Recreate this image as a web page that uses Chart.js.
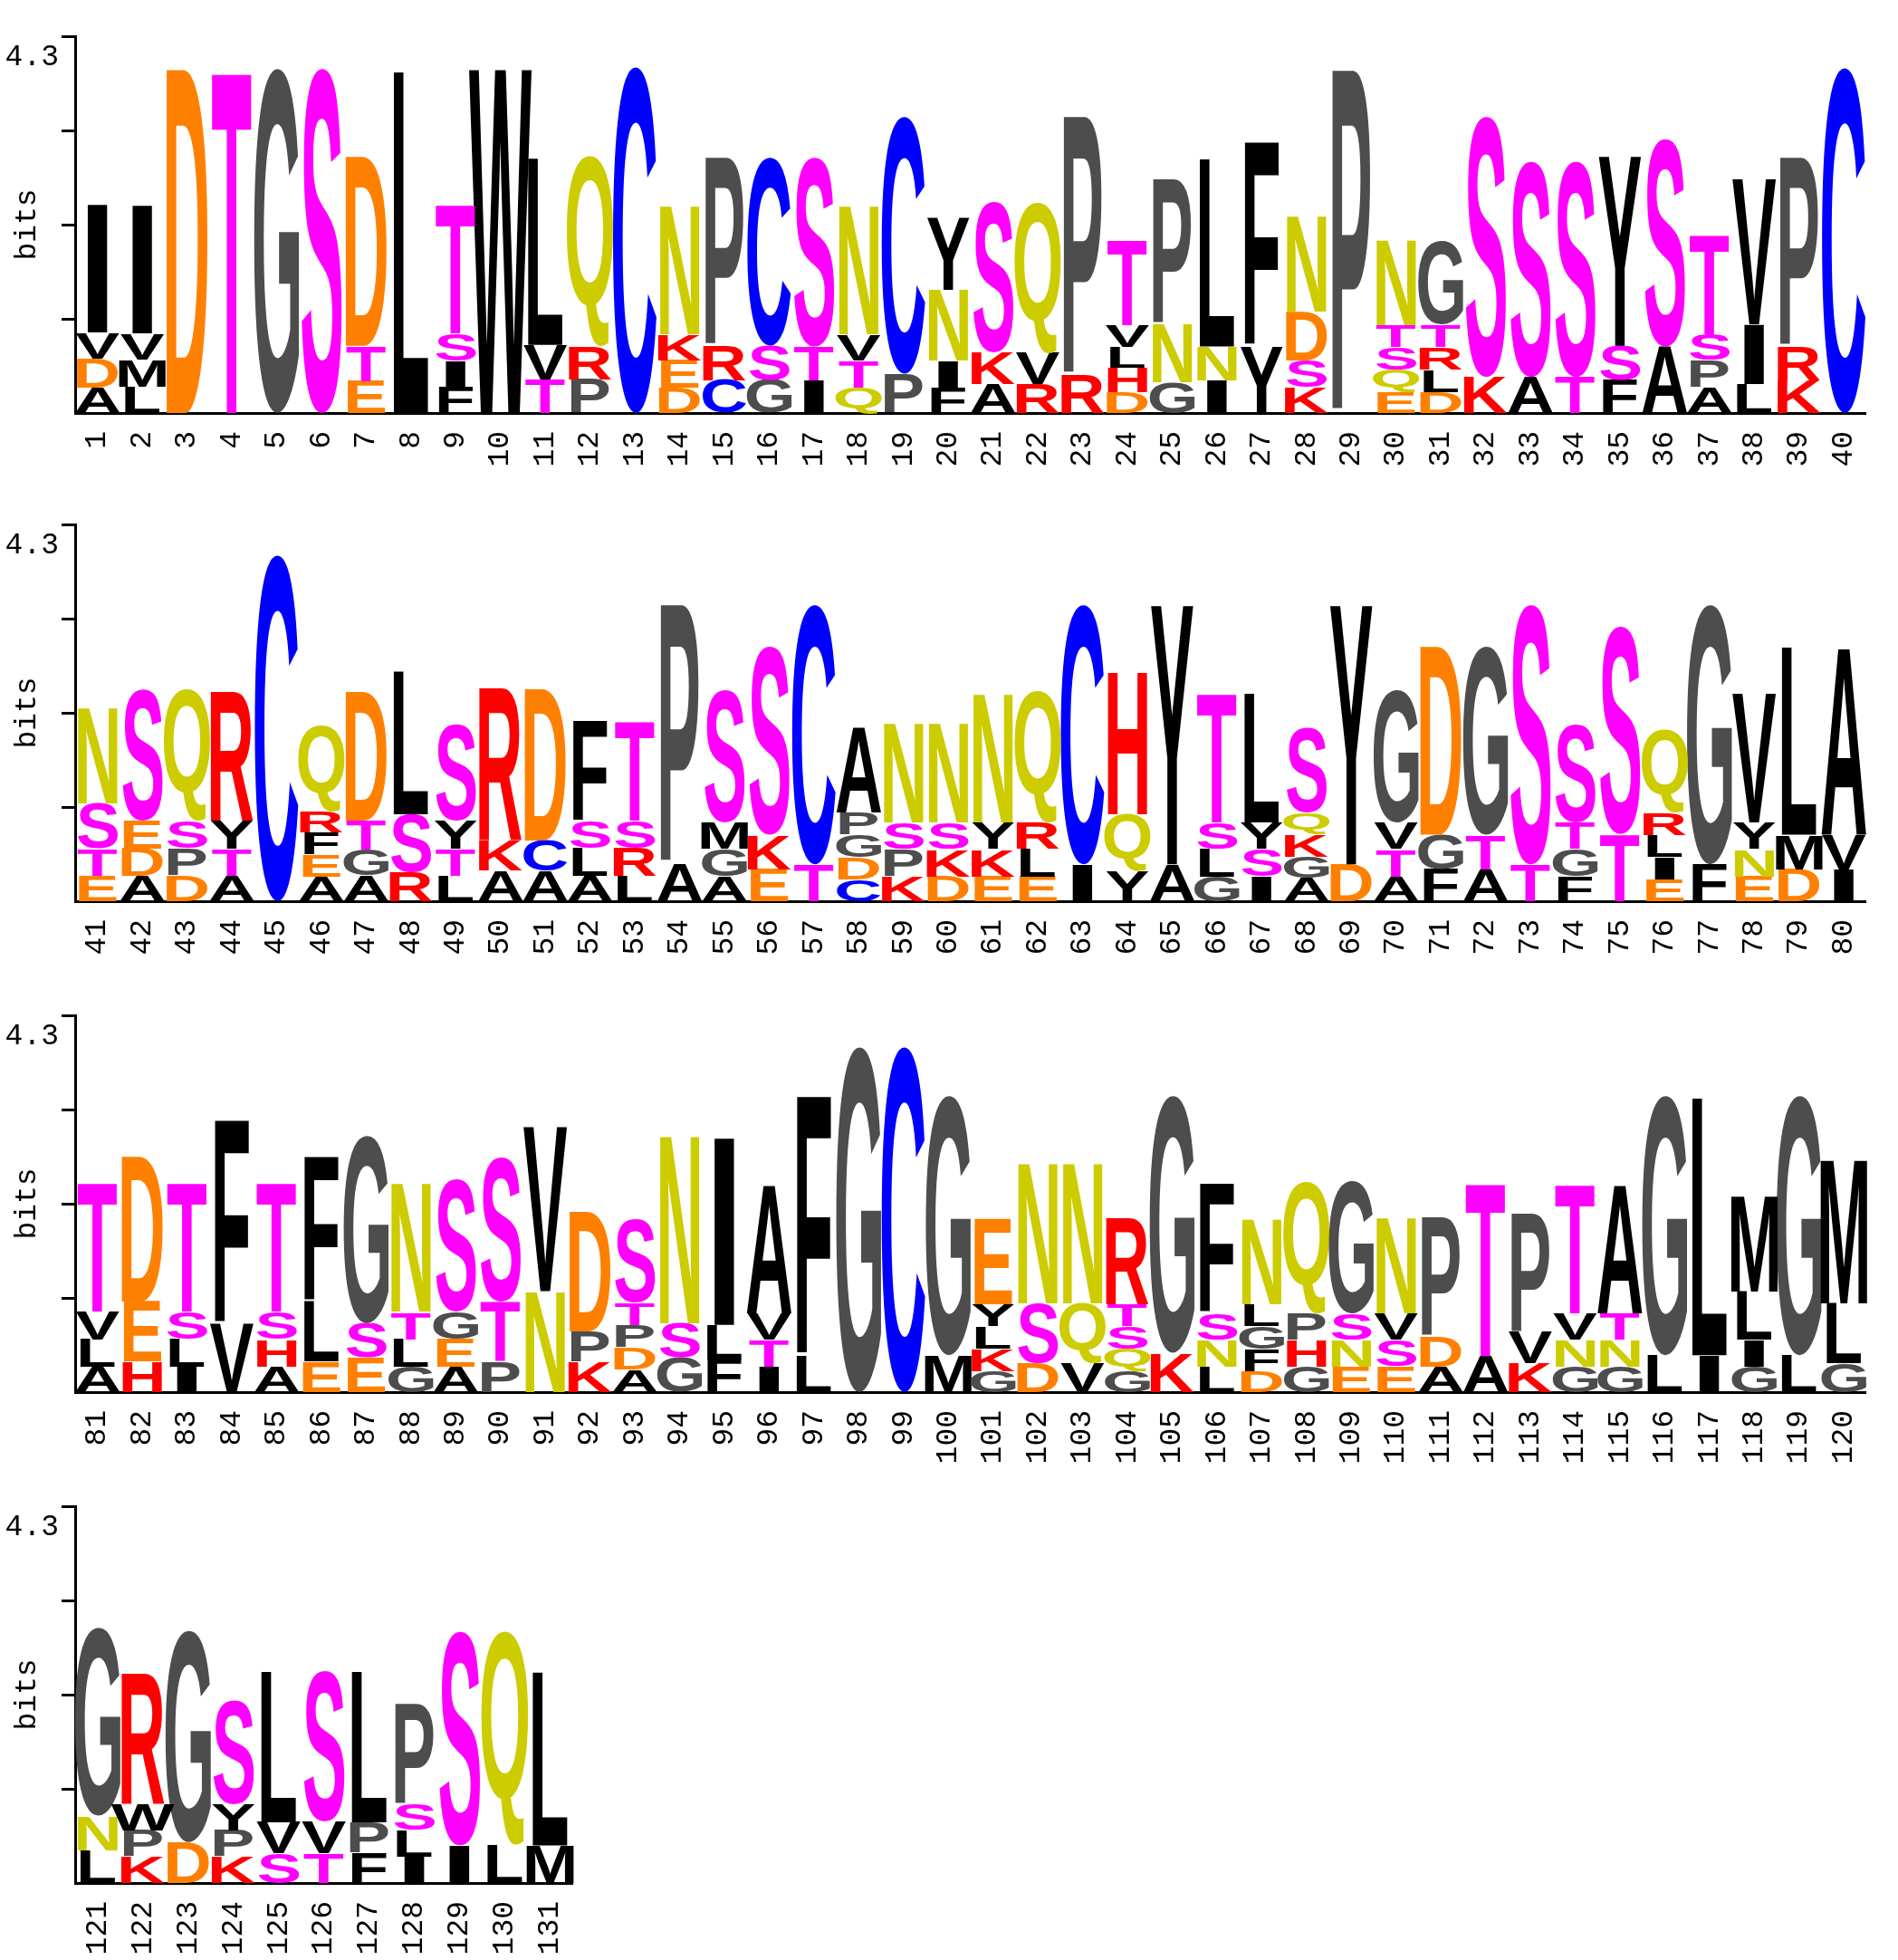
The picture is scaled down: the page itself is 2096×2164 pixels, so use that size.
<!DOCTYPE html>
<html>
<head>
<meta charset="utf-8">
<title>Sequence logo</title>
<script src="https://cdn.jsdelivr.net/npm/chart.js@4.4.1/dist/chart.umd.min.js"></script>
<style>
  html, body { margin: 0; padding: 0; background: #fff; }
  .row { position: absolute; left: 0; width: 2096px; height: 541px; }
  canvas { display: block; }
</style>
</head>
<body>
<div class="row" style="top:0px"><canvas id="row0" width="2096" height="541"></canvas></div>
<div class="row" style="top:539px"><canvas id="row1" width="2096" height="541"></canvas></div>
<div class="row" style="top:1081px"><canvas id="row2" width="2096" height="541"></canvas></div>
<div class="row" style="top:1623px"><canvas id="row3" width="2096" height="541"></canvas></div>
<script>
// letters of each column, bottom to top
const stackLetters = [
    'ADVI', 'LMVI', 'D', 'T', 'G', 'S', 'ETD', 'L', 'FIST', 'W',
    'TVL', 'PRQ', 'C', 'DEKN', 'CRP', 'GSC', 'ITS', 'QTVN', 'PC', 'FINY',
    'AKS', 'RVQ', 'RP', 'DHLVT', 'GNP', 'INL', 'YF', 'KSDN', 'P', 'EQSTN',
    'DLRTG', 'KS', 'AS', 'TS', 'FSY', 'AS', 'APST', 'LIV', 'KRP', 'C',
    'ETSN', 'ADES', 'DPSQ', 'ATYR', 'C', 'AEFRQ', 'AGTD', 'RSL', 'LTYS', 'AKR',
    'ACD', 'ALSF', 'LRST', 'AP', 'AGMS', 'EKS', 'TC', 'CDGPA', 'KPSN', 'DKSN',
    'EKYN', 'ELRQ', 'IC', 'YQH', 'AY', 'GLST', 'ISYL', 'AGKQS', 'DY', 'ATVG',
    'FGD', 'ATG', 'TS', 'FGTS', 'TS', 'EILRQ', 'FG', 'ENYV', 'DML', 'IVA',
    'ALVT', 'HED', 'ILST', 'VF', 'AHST', 'ELF', 'ESG', 'GLTN', 'AEGS', 'PTS',
    'NV', 'KPD', 'ADPTS', 'GSN', 'FLI', 'ITVA', 'LF', 'G', 'C', 'MG',
    'GKLYE', 'DSN', 'VQN', 'GQSTR', 'KG', 'LNSF', 'DFGLN', 'GHPQ', 'ENSG', 'ESVN',
    'ADP', 'AT', 'KVP', 'GNVT', 'GNTA', 'LG', 'IL', 'GILM', 'LG', 'GLM',
    'LNG', 'KPWR', 'DG', 'KPYS', 'SVL', 'TVS', 'FPL', 'ILSP', 'IS', 'LQ',
    'ML'
];

// bits of each letter, same order
const stackHeights = [
    [0.32, 0.36, 0.32, 1.61], [0.33, 0.34, 0.32, 1.62], [4.29], [4.29], [4.30], [4.30],
    [0.40, 0.44, 2.36], [4.26], [0.33, 0.32, 0.34, 1.62], [4.29],
    [0.42, 0.43, 2.33], [0.42, 0.41, 2.37], [4.32], [0.32, 0.34, 0.32, 1.62],
    [0.41, 0.43, 2.35], [0.41, 0.43, 2.35], [0.41, 0.42, 2.36], [0.32, 0.34, 0.32, 1.62],
    [0.49, 3.21], [0.32, 0.33, 0.89, 0.89],
    [0.36, 0.39, 1.88], [0.36, 0.39, 1.88], [0.47, 3.23], [0.26, 0.30, 0.26, 0.28, 1.07],
    [0.38, 0.73, 1.81], [0.41, 0.42, 2.34], [0.83, 2.55], [0.32, 0.34, 0.60, 1.20], [4.28],
    [0.26, 0.28, 0.28, 0.28, 1.07],
    [0.26, 0.28, 0.28, 0.28, 1.04], [0.45, 3.25], [0.45, 2.69], [0.45, 2.69], [0.41, 0.43, 2.36],
    [0.83, 2.59], [0.32, 0.34, 0.32, 1.25], [0.36, 0.75, 1.81], [0.41, 0.42, 2.36], [4.31],
    [0.32, 0.34, 0.56, 1.21], [0.32, 0.34, 0.34, 1.64], [0.32, 0.34, 0.34, 1.64], [0.32, 0.34, 0.34, 1.60],
    [4.32], [0.30, 0.28, 0.28, 0.26, 1.07], [0.32, 0.32, 0.36, 1.61], [0.36, 0.73, 1.78],
    [0.32, 0.34, 0.34, 1.21], [0.38, 0.38, 1.89],
    [0.38, 0.38, 1.89], [0.32, 0.34, 0.34, 1.24], [0.32, 0.34, 0.34, 1.24], [0.47, 3.23],
    [0.31, 0.34, 0.33, 1.65], [0.40, 0.43, 2.35], [0.46, 3.24], [0.27, 0.28, 0.28, 0.28, 1.07],
    [0.31, 0.34, 0.33, 1.24], [0.31, 0.34, 0.33, 1.24],
    [0.31, 0.34, 0.33, 1.62], [0.31, 0.34, 0.33, 1.65], [0.46, 3.24], [0.37, 0.72, 1.79],
    [0.46, 3.23], [0.31, 0.34, 0.33, 1.62], [0.31, 0.34, 0.33, 1.60], [0.29, 0.26, 0.28, 0.27, 1.05],
    [0.46, 3.23], [0.31, 0.34, 0.33, 1.65],
    [0.40, 0.43, 2.35], [0.40, 0.43, 2.35], [0.46, 3.24], [0.31, 0.34, 0.33, 1.22], [0.84, 2.59],
    [0.27, 0.28, 0.28, 0.27, 1.04], [0.46, 3.24], [0.31, 0.34, 0.33, 1.61], [0.40, 0.43, 2.34],
    [0.40, 0.43, 2.35],
    [0.32, 0.34, 0.34, 1.61], [0.38, 0.75, 1.81], [0.32, 0.34, 0.34, 1.61], [0.85, 2.54],
    [0.32, 0.34, 0.34, 1.61], [0.38, 0.75, 1.81], [0.43, 0.43, 2.34], [0.32, 0.34, 0.34, 1.61],
    [0.32, 0.34, 0.34, 1.65], [0.38, 0.75, 1.80],
    [1.26, 2.05], [0.38, 0.38, 1.49], [0.28, 0.28, 0.28, 0.28, 1.04], [0.43, 0.43, 2.36],
    [0.41, 0.43, 2.36], [0.32, 0.33, 0.33, 1.62], [0.45, 3.24], [4.31], [4.31], [0.46, 3.24],
    [0.26, 0.28, 0.28, 0.28, 1.07], [0.36, 0.75, 1.76], [0.36, 0.75, 1.76], [0.26, 0.28, 0.28, 0.28, 1.07],
    [0.49, 3.21], [0.32, 0.33, 0.33, 1.61], [0.26, 0.28, 0.28, 0.28, 1.07], [0.32, 0.33, 0.33, 1.65],
    [0.32, 0.33, 0.33, 1.65], [0.32, 0.33, 0.33, 1.21],
    [0.32, 0.38, 1.49], [0.45, 2.17], [0.36, 0.39, 1.48], [0.32, 0.33, 0.33, 1.61],
    [0.32, 0.33, 0.33, 1.62], [0.46, 3.24], [0.46, 3.21], [0.32, 0.33, 0.60, 1.21], [0.46, 3.24],
    [0.36, 0.75, 1.81],
    [0.41, 0.43, 2.35], [0.33, 0.33, 0.33, 1.62], [0.51, 2.64], [0.33, 0.33, 0.33, 1.29],
    [0.37, 0.39, 1.88], [0.37, 0.39, 1.88], [0.38, 0.38, 1.88], [0.33, 0.33, 0.33, 1.25],
    [0.47, 2.67], [0.47, 2.67],
    [0.47, 2.16]
];

const positions = stackLetters.map((s, i) => String(i + 1));
const yTickLabels = ['', '', '', '4.3'];

const YMAX = 4.7;          // top of the axis, in bits
const PER_ROW = 40;
const MAX_STACK = 5;

const letterColors = {
    A: '#000000', V: '#000000', L: '#000000', I: '#000000', M: '#000000',
    F: '#000000', W: '#000000', Y: '#000000',
    G: '#4d4d4d', P: '#4d4d4d',
    S: '#ff00ff', T: '#ff00ff',
    N: '#cccc00', Q: '#cccc00',
    C: '#0000ff',
    K: '#ff0000', R: '#ff0000', H: '#ff0000',
    D: '#ff8000', E: '#ff8000'
};

const LETTER_FONT = 'bold 100px "Liberation Sans", Arial, sans-serif';
const MONO = 'Liberation Mono';

// draws each stacked bar as a letter stretched into the bar's box
const logoLetters = {
    id: 'logoLetters',
    afterDatasetsDraw(chart) {
        const ctx = chart.ctx;
        const xs = chart.scales.x;
        const colW = xs.width / chart.data.labels.length;
        const em = colW * 1.48;
        ctx.save();
        ctx.font = LETTER_FONT;
        ctx.textAlign = 'left';
        ctx.textBaseline = 'alphabetic';

        chart.data.datasets.forEach((ds, k) => {
            const meta = chart.getDatasetMeta(k);
            meta.data.forEach((bar, i) => {
                const ch = ds.stackLetters[i];
                if (!ch) return;
                const { x, y, base } = bar.getProps(['x', 'y', 'base'], true);
                const h = base - y;
                if (h <= 0) return;
                const m = ctx.measureText(ch);
                const inkW = m.actualBoundingBoxLeft + m.actualBoundingBoxRight;
                const inkH = m.actualBoundingBoxAscent + m.actualBoundingBoxDescent;
                let sx = em / 100;
                if (inkW * sx < colW * 0.48) sx = colW * 0.48 / inkW; // narrow I
                const sy = h / inkH;
                ctx.save();
                ctx.translate(x, base);
                ctx.scale(sx, sy);
                ctx.fillStyle = letterColors[ch] || '#000';
                ctx.fillText(ch, -(m.actualBoundingBoxRight - m.actualBoundingBoxLeft) / 2,
                    -m.actualBoundingBoxDescent);
                ctx.restore();
            });
        });
        ctx.restore();
    }
};

function buildRow(canvasId, start) {
    const end = Math.min(start + PER_ROW, positions.length);
    const labels = positions.slice(start, end);
    const datasets = [];
    for (let k = 0; k < MAX_STACK; k++) {
        datasets.push({
            data: stackHeights.slice(start, end).map(h => (h[k] !== undefined ? h[k] : null)),
            stackLetters: stackLetters.slice(start, end).map(s => s[k] || null),
            backgroundColor: 'rgba(0,0,0,0)',
            borderWidth: 0,
            barPercentage: 1,
            categoryPercentage: 1
        });
    }
    const colW = (2081 - 83) / PER_ROW;
    const rightPad = 2096 - (83 + labels.length * colW);

    new Chart(document.getElementById(canvasId).getContext('2d'), {
        type: 'bar',
        data: { labels: labels, datasets: datasets },
        options: {
            responsive: false,
            animation: false,
            events: [],
            layout: { padding: { top: 40, left: 0, right: rightPad, bottom: 0 } },
            plugins: {
                legend: { display: false },
                tooltip: { enabled: false }
            },
            scales: {
                x: {
                    stacked: true,
                    grid: { display: false, drawTicks: false },
                    border: { display: true, color: '#000', width: 3 },
                    ticks: {
                        autoSkip: false,
                        minRotation: 90,
                        maxRotation: 90,
                        padding: 20,
                        color: '#000',
                        font: { family: MONO, size: 33 }
                    },
                    afterFit(s) { s.height = 85; }
                },
                y: {
                    stacked: true,
                    min: 0,
                    max: YMAX,
                    afterBuildTicks(s) {
                        s.ticks = [1, 2, 3, 4].map(q => ({ value: YMAX * q / 4 }));
                    },
                    grid: {
                        drawOnChartArea: false,
                        drawTicks: true,
                        tickLength: 15,
                        color: '#000',
                        lineWidth: 3
                    },
                    border: { display: true, color: '#000', width: 3 },
                    ticks: {
                        padding: 3,
                        labelOffset: 23,
                        color: '#000',
                        font: { family: MONO, size: 33 },
                        callback: (v, i) => yTickLabels[i]
                    },
                    title: {
                        display: true,
                        text: 'bits',
                        color: '#000',
                        font: { family: MONO, size: 33 },
                        padding: { top: 10, bottom: 0 }
                    },
                    afterFit(s) { s.width = 83; }
                }
            }
        },
        plugins: [logoLetters]
    });
}

buildRow('row0', 0);
buildRow('row1', 40);
buildRow('row2', 80);
buildRow('row3', 120);
</script>
</body>
</html>
